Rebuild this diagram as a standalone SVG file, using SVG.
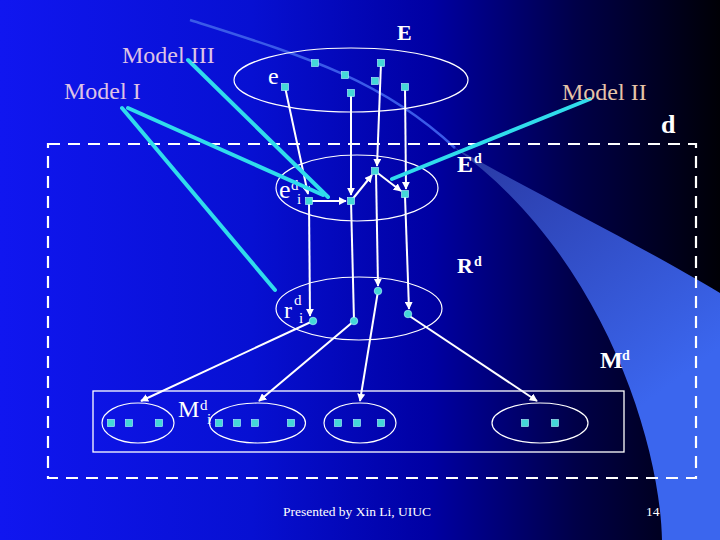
<svg xmlns="http://www.w3.org/2000/svg" width="720" height="540" viewBox="0 0 720 540">
<defs>
<linearGradient id="bg" x1="0" y1="0" x2="1" y2="0">
<stop offset="0" stop-color="#1016f0"/>
<stop offset="0.35" stop-color="#0710d2"/>
<stop offset="0.6" stop-color="#0000a2"/>
<stop offset="0.8" stop-color="#000048"/>
<stop offset="1" stop-color="#000006"/>
</linearGradient>
<linearGradient id="band" gradientUnits="userSpaceOnUse" x1="470" y1="160" x2="650" y2="400">
<stop offset="0" stop-color="#2a3aa6"/>
<stop offset="1" stop-color="#3b66ee"/>
</linearGradient>
<marker id="ah" viewBox="0 0 10 10" refX="9" refY="5" markerWidth="4" markerHeight="4" orient="auto" markerUnits="strokeWidth">
<path d="M0,0 L10,5 L0,10 z" fill="#ffffff"/>
</marker>
<style>
.el{fill:none;stroke:#ffffff;stroke-width:1.2}
.ln{stroke:#ffffff;stroke-width:2;fill:none}
.ar{marker-end:url(#ah)}
.cy{stroke:#30dcec;stroke-width:4;stroke-linecap:round}
.dt{fill:#44d8d8;stroke:#b8ffff;stroke-width:0.6}
.t{font-family:"Liberation Serif","Times New Roman",serif;fill:#ffffff}
.b{font-weight:bold}
.m{fill:#dec2e6}
</style>
</defs>
<rect x="0" y="0" width="720" height="540" fill="url(#bg)"/>
<path d="M190,20 C300,55 380,78 455,148" fill="none" stroke="#3a5ae8" stroke-width="2.5"/>
<path d="M452,146 C520,185 640,245 720,293 L720,540 L662,540 C660,440 600,250 452,146 Z" fill="url(#band)"/>
<rect x="48" y="144" width="648" height="334" fill="none" stroke="#ffffff" stroke-width="2.2" stroke-dasharray="12,8"/>
<rect x="93" y="391" width="531" height="61" fill="none" stroke="#ffffff" stroke-width="1.3"/>

<g id="E">
<ellipse class="el" cx="351" cy="80" rx="117" ry="32"/>
<text class="t b" x="397" y="40" font-size="22">E</text>
<text class="t" x="268" y="84" font-size="24">e</text>
</g>
<g id="Ed">
<ellipse class="el" cx="357" cy="188" rx="81" ry="33"/>
<text class="t b" x="457" y="172" font-size="24">E</text>
<text class="t b" x="474" y="163" font-size="14">d</text>
<text class="t" x="279" y="198" font-size="26">e</text>
<text class="t" x="291" y="190" font-size="15">d</text>
<text class="t" x="297" y="204" font-size="15">i</text>
</g>
<g id="Rd">
<ellipse class="el" cx="359" cy="308.5" rx="83" ry="31.5"/>
<text class="t b" x="457" y="273" font-size="22">R</text>
<text class="t b" x="474" y="266" font-size="14">d</text>
<text class="t" x="284" y="318" font-size="24">r</text>
<text class="t" x="294" y="305" font-size="15">d</text>
<text class="t" x="299" y="323" font-size="15">i</text>
</g>
<g id="Md">
<text class="t b" x="600" y="368" font-size="24">M</text>
<text class="t b" x="622" y="360" font-size="14">d</text>
<ellipse class="el" cx="138" cy="423" rx="36" ry="20"/>
<ellipse class="el" cx="257.5" cy="423" rx="48" ry="20"/>
<ellipse class="el" cx="360" cy="423" rx="36" ry="20"/>
<ellipse class="el" cx="540" cy="423" rx="48" ry="20"/>
<text class="t" x="178" y="417" font-size="24">M</text>
<text class="t" x="200" y="410" font-size="15">d</text>
<text class="t" x="207" y="424" font-size="15">i</text>
</g>
<g id="d-label">
<text class="t b" x="661" y="133" font-size="26">d</text>
</g>

<g id="connectors">
<line class="ln ar" x1="285" y1="87" x2="308" y2="194"/>
<line class="ln ar" x1="351" y1="93" x2="351" y2="195"/>
<line class="ln ar" x1="381" y1="63" x2="377" y2="166"/>
<line class="ln ar" x1="405" y1="87" x2="406" y2="189"/>
<line class="ln ar" x1="309" y1="201" x2="346" y2="201"/>
<line class="ln ar" x1="351" y1="201" x2="372" y2="175"/>
<line class="ln ar" x1="375" y1="171" x2="401" y2="191"/>
<line class="ln ar" x1="309" y1="201" x2="310" y2="316"/>
<line class="ln" x1="351" y1="201" x2="354" y2="321"/>
<line class="ln ar" x1="376" y1="172" x2="378" y2="286"/>
<line class="ln ar" x1="405" y1="196" x2="409" y2="309"/>
<line class="ln ar" x1="313" y1="321" x2="141" y2="401"/>
<line class="ln ar" x1="354" y1="321" x2="259" y2="401"/>
<line class="ln ar" x1="378" y1="291" x2="360" y2="401"/>
<line class="ln ar" x1="408" y1="315" x2="537" y2="401"/>
</g>

<g id="models">
<line class="cy" x1="188" y1="60" x2="328" y2="197"/>
<line class="cy" x1="122" y1="108" x2="275" y2="290"/>
<line class="cy" x1="128" y1="108" x2="323" y2="195"/>
<line class="cy" x1="590" y1="99" x2="392" y2="179"/>
<text class="t m" x="122" y="63" font-size="24">Model III</text>
<text class="t m" x="64" y="99" font-size="24">Model I</text>
<text class="t" x="562" y="100" font-size="24" style="fill:#e6c4a8">Model II</text>
</g>

<g id="dots">
<rect class="dt" x="281.5" y="83.5" width="7" height="7"/>
<rect class="dt" x="311.5" y="59.5" width="7" height="7"/>
<rect class="dt" x="341.5" y="71.5" width="7" height="7"/>
<rect class="dt" x="347.5" y="89.5" width="7" height="7"/>
<rect class="dt" x="371.5" y="77.5" width="7" height="7"/>
<rect class="dt" x="377.5" y="59.5" width="7" height="7"/>
<rect class="dt" x="401.5" y="83.5" width="7" height="7"/>
<rect class="dt" x="305.5" y="197.5" width="7" height="7"/>
<rect class="dt" x="347.5" y="197.5" width="7" height="7"/>
<rect class="dt" x="371.5" y="167.5" width="7" height="7"/>
<rect class="dt" x="401.5" y="190.5" width="7" height="7"/>
<circle class="dt" cx="313" cy="321" r="3.8"/>
<circle class="dt" cx="354" cy="321" r="3.8"/>
<circle class="dt" cx="378" cy="291" r="3.8"/>
<circle class="dt" cx="408" cy="314" r="3.8"/>
<rect class="dt" x="107.5" y="419.5" width="7" height="7"/>
<rect class="dt" x="125.5" y="419.5" width="7" height="7"/>
<rect class="dt" x="155.5" y="419.5" width="7" height="7"/>
<rect class="dt" x="215.5" y="419.5" width="7" height="7"/>
<rect class="dt" x="233.5" y="419.5" width="7" height="7"/>
<rect class="dt" x="251.5" y="419.5" width="7" height="7"/>
<rect class="dt" x="287.5" y="419.5" width="7" height="7"/>
<rect class="dt" x="334.5" y="419.5" width="7" height="7"/>
<rect class="dt" x="353.5" y="419.5" width="7" height="7"/>
<rect class="dt" x="377.5" y="419.5" width="7" height="7"/>
<rect class="dt" x="521.5" y="419.5" width="7" height="7"/>
<rect class="dt" x="551.5" y="419.5" width="7" height="7"/>
</g>

<g id="footer">
<text class="t" x="283" y="516" font-size="13.5">Presented by Xin Li, UIUC</text>
<text class="t" x="646" y="516" font-size="13.5">14</text>
</g>
</svg>
